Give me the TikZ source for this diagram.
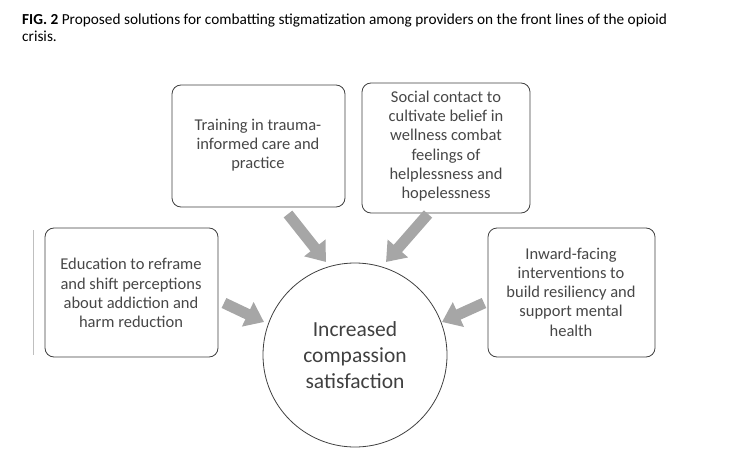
\documentclass[tikz,border=0pt]{standalone}
\usepackage{fontspec}
\setmainfont{Carlito}
\usetikzlibrary{arrows.meta}
\begin{document}
\begin{tikzpicture}[x=1pt,y=-1pt,
  box/.style={draw=black!75,line width=0.8pt,rounded corners=9pt,fill=white},
  btext/.style={align=center,font=\fontsize{16.5}{19.3}\selectfont,text=black!72},
  arr/.style={draw=black!35,line width=11pt,-{Triangle[width=26pt,length=18pt]}}]
\useasboundingbox (0,0) rectangle (743,465);
\node[anchor=north west,inner sep=0,align=left,font=\fontsize{15.3}{17}\selectfont] (title) at (22,14)
 {\textbf{FIG. 2} Proposed solutions for combatting stigmatization among providers on the front lines of the opioid\\crisis.};
\draw[black!25,line width=0.6pt] (33,230) -- (33,355);
\draw[box] (45,228) rectangle (218,357);
\node[btext] (b1) at (131,293) {Education to reframe\\and shift perceptions\\about addiction and\\harm reduction};
\draw[box] (172,85) rectangle (345,207);
\node[btext] (b2) at (258,145) {Training in trauma-\\informed care and\\practice};
\draw[box] (362,83) rectangle (530,213);
\node[btext] (b3) at (446,146) {Social contact to\\cultivate belief in\\wellness combat\\feelings of\\helplessness and\\hopelessness};
\draw[box] (488,228) rectangle (655,357);
\node[btext] (b4) at (571,292) {Inward-facing\\interventions to\\build resiliency and\\support mental\\health};
\node[circle,draw=black!75,line width=0.8pt,minimum size=184pt,align=center,
  font=\fontsize{21.5}{26}\selectfont,text=black!75] (c) at (355,355) {Increased\\compassion\\satisfaction};
\coordinate (a1s) at (224,303); \coordinate (a1e) at (264,322);
\coordinate (a2s) at (288,214); \coordinate (a2e) at (326,262);
\coordinate (a3s) at (428,214); \coordinate (a3e) at (386,262);
\coordinate (a4s) at (484,303); \coordinate (a4e) at (442,322);
\draw[arr] (a1s) -- (a1e);
\draw[arr] (a2s) -- (a2e);
\draw[arr] (a3s) -- (a3e);
\draw[arr] (a4s) -- (a4e);
\end{tikzpicture}
\end{document}
